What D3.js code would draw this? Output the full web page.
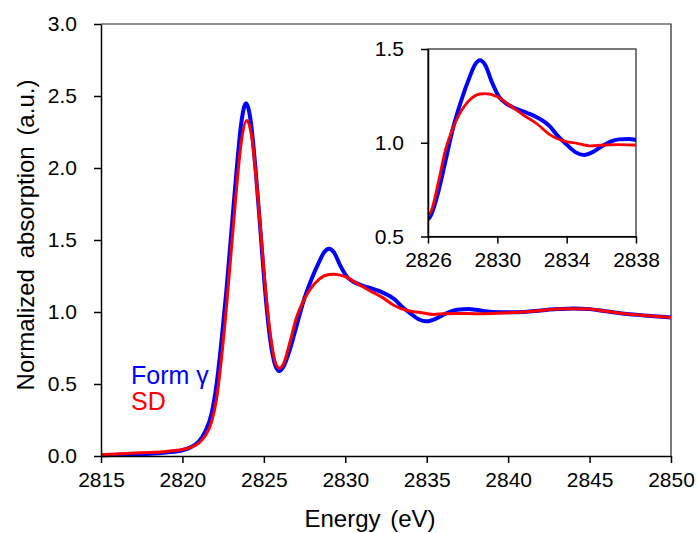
<!DOCTYPE html>
<html>
<head>
<meta charset="utf-8"/>
<title>XANES</title>
<script src="https://cdn.jsdelivr.net/npm/d3@7"></script>
<style>
  body { margin: 0; background: #fff; }
  text { font-family: 'Liberation Sans', Arial, sans-serif; fill: #000; }
  .axis path, .axis line { stroke: #000; stroke-width: 1.5px; }
  .axis text { font-size: 21px; }
</style>
</head>
<body>
<div id="chart"></div>
<script>
// ---- data ----
const formEnergy = [2815, 2816, 2817, 2818, 2819, 2820, 2820.5, 2821, 2821.4, 2821.8, 2822.1, 2822.4, 2822.7, 2823.0, 2823.3, 2823.6, 2823.9, 2824.2, 2824.5, 2824.8, 2825.1, 2825.4, 2825.7, 2825.95, 2826.2, 2826.6, 2827.0, 2827.45, 2827.9, 2828.4, 2828.7, 2829.0, 2829.3, 2829.7, 2830.1, 2830.5, 2831.0, 2831.7, 2832.3, 2833.0, 2833.5, 2834.0, 2834.5, 2835.0, 2835.5, 2836.0, 2836.5, 2837.0, 2837.6, 2838.0, 2839, 2840, 2841, 2842, 2843, 2844, 2845, 2846, 2847, 2848, 2849, 2850];
const formValues = [0.005, 0.008, 0.012, 0.016, 0.025, 0.04, 0.06, 0.1, 0.17, 0.3, 0.5, 0.8, 1.15, 1.55, 1.95, 2.3, 2.45, 2.32, 1.98, 1.55, 1.12, 0.8, 0.63, 0.59, 0.62, 0.74, 0.9, 1.08, 1.22, 1.35, 1.415, 1.44, 1.415, 1.32, 1.245, 1.21, 1.185, 1.16, 1.135, 1.09, 1.035, 0.99, 0.95, 0.935, 0.95, 0.98, 1.005, 1.018, 1.02, 1.015, 1.0, 0.998, 1.0, 1.01, 1.02, 1.025, 1.02, 1.005, 0.99, 0.98, 0.97, 0.962];

const sdEnergy = [2815, 2816, 2817, 2818, 2819, 2820, 2820.5, 2821, 2821.4, 2821.8, 2822.1, 2822.4, 2822.7, 2823.0, 2823.3, 2823.6, 2823.95, 2824.25, 2824.55, 2824.85, 2825.15, 2825.45, 2825.7, 2825.95, 2826.2, 2826.6, 2827.0, 2827.4, 2827.8, 2828.4, 2829.0, 2829.3, 2830.0, 2830.7, 2831.5, 2832.3, 2833.0, 2833.8, 2834.6, 2835.4, 2836.1, 2837.0, 2838.0, 2839, 2840, 2841, 2842, 2843, 2844, 2845, 2846, 2847, 2848, 2849, 2850];
const sdValues = [0.01, 0.014, 0.02, 0.025, 0.032, 0.045, 0.06, 0.09, 0.14, 0.24, 0.4, 0.68, 1.03, 1.43, 1.83, 2.17, 2.33, 2.22, 1.9, 1.5, 1.1, 0.8, 0.65, 0.61, 0.64, 0.79, 0.96, 1.07, 1.15, 1.228, 1.26, 1.262, 1.245, 1.2, 1.148, 1.1, 1.045, 1.01, 0.997, 0.983, 0.988, 0.99, 0.988, 0.99, 0.995, 1.0, 1.01, 1.02, 1.023, 1.02, 1.005, 0.99, 0.98, 0.97, 0.962];

const xTicks = [2815, 2820, 2825, 2830, 2835, 2840, 2845, 2850];
const yTicks = [0, 0.5, 1.0, 1.5, 2.0, 2.5, 3.0];
const insetXTicks = [2826, 2830, 2834, 2838];
const insetYTicks = [0.5, 1.0, 1.5];
const seriesNames = ["Form \u03b3", "SD"];
const colours = ["#0000ff", "#ff0000"];

// ---- layout ----
const W = 697, H = 533;
const main = {left: 101, right: 671, top: 24, bottom: 456};
const inset = {left: 428, right: 636, top: 49, bottom: 236.5};

const svg = d3.select("#chart").append("svg")
    .attr("width", W)
    .attr("height", H);

const series = [
  {name: seriesNames[0], pts: formEnergy.map((e, i) => [e, formValues[i]]), colour: colours[0], w: 4, wi: 4},
  {name: seriesNames[1], pts: sdEnergy.map((e, i) => [e, sdValues[i]]), colour: colours[1], w: 3, wi: 2.8}
];

// main scales
const x = d3.scaleLinear().domain([2815, 2850]).range([main.left, main.right]);
const y = d3.scaleLinear().domain([0, 3]).range([main.bottom, main.top]);

// frame (top & right)
svg.append("path")
    .attr("d", `M${main.left},${main.top}H${main.right}V${main.bottom}`)
    .attr("fill", "none")
    .attr("stroke", "#222")
    .attr("stroke-width", 1.2);

const line = d3.line()
    .x(d => x(d[0]))
    .y(d => y(d[1]))
    .curve(d3.curveMonotoneX);

series.forEach(s => {
  svg.append("path")
      .datum(s.pts)
      .attr("fill", "none")
      .attr("stroke", s.colour)
      .attr("stroke-width", s.w)
      .attr("stroke-linejoin", "round")
      .attr("d", line);
});

svg.append("g")
    .attr("class", "axis")
    .attr("transform", `translate(0,${main.bottom})`)
    .call(d3.axisBottom(x).tickValues(xTicks).tickFormat(d3.format("d")).tickSize(7).tickSizeOuter(0).tickPadding(9));

svg.append("g")
    .attr("class", "axis")
    .attr("transform", `translate(${main.left},0)`)
    .call(d3.axisLeft(y).tickValues(yTicks).tickFormat(d3.format(".1f")).tickSize(7).tickSizeOuter(0).tickPadding(17));

// axis titles
svg.append("text")
    .attr("x", 370)
    .attr("y", 527)
    .attr("text-anchor", "middle")
    .style("font-size", "24px")
    .style("word-spacing", "3px")
    .text("Energy (eV)");

svg.append("text")
    .attr("transform", `translate(34,235)rotate(-90)`)
    .attr("text-anchor", "middle")
    .style("font-size", "24px")
    .style("word-spacing", "4px")
    .text("Normalized absorption (a.u.)");

// legend
svg.selectAll(".legend")
    .data(series)
  .enter().append("text")
    .attr("class", "legend")
    .attr("x", 131)
    .attr("y", (d, i) => 384 + i * 26)
    .style("font-size", "25px")
    .style("fill", d => d.colour)
    .text(d => d.name);

// ---- inset ----
const xi = d3.scaleLinear().domain([2826, 2838]).range([inset.left, inset.right]);
const yi = d3.scaleLinear().domain([0.5, 1.5]).range([inset.bottom, inset.top]);

svg.append("rect")
    .attr("x", inset.left).attr("y", inset.top)
    .attr("width", inset.right - inset.left)
    .attr("height", inset.bottom - inset.top)
    .attr("fill", "#fff")
    .attr("stroke", "#222")
    .attr("stroke-width", 1.2);

svg.append("clipPath").attr("id", "insetClip")
  .append("rect")
    .attr("x", inset.left).attr("y", inset.top)
    .attr("width", inset.right - inset.left)
    .attr("height", inset.bottom - inset.top);

const lineInset = d3.line()
    .x(d => xi(d[0]))
    .y(d => yi(d[1]))
    .curve(d3.curveMonotoneX);

const gi = svg.append("g").attr("clip-path", "url(#insetClip)");
series.forEach(s => {
  gi.append("path")
      .datum(s.pts)
      .attr("fill", "none")
      .attr("stroke", s.colour)
      .attr("stroke-width", s.wi)
      .attr("stroke-linejoin", "round")
      .attr("d", lineInset);
});

svg.append("g")
    .attr("class", "axis")
    .attr("transform", `translate(0,${inset.bottom})`)
    .call(d3.axisBottom(xi).tickValues(insetXTicks).tickFormat(d3.format("d")).tickSize(7).tickSizeOuter(0).tickPadding(9));

svg.append("g")
    .attr("class", "axis")
    .attr("transform", `translate(${inset.left},0)`)
    .call(d3.axisLeft(yi).tickValues(insetYTicks).tickFormat(d3.format(".1f")).tickSize(7).tickSizeOuter(0).tickPadding(17));

svg.selectAll(".axis .domain").attr("stroke-width", 1.8);
</script>
</body>
</html>
